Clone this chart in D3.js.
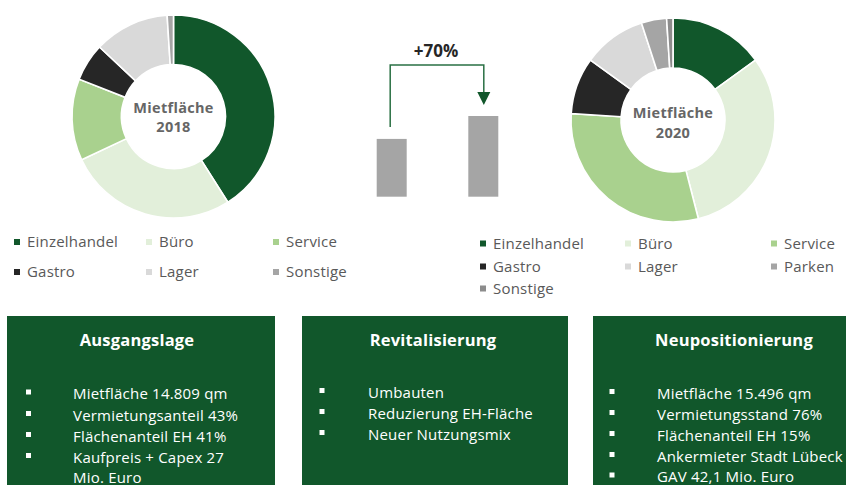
<!DOCTYPE html>
<html><head><meta charset="utf-8">
<script src="https://cdn.jsdelivr.net/npm/d3@7"></script>
<style>
html,body{margin:0;padding:0;background:#fff;}
svg{display:block;font-family:"Open Sans","Noto Sans",sans-serif;}
</style></head>
<body><svg id="c" width="846" height="485"></svg>
<script>
// ---------- data ----------
const cats2018 = ["Einzelhandel","Büro","Service","Gastro","Lager","Sonstige"];
const vals2018 = [41, 27, 13, 6, 12, 1];
const cats2020 = ["Einzelhandel","Büro","Service","Gastro","Lager","Parken","Sonstige"];
const vals2020 = [15, 31, 30, 9, 10, 4, 1];
const barLabels = ["2018","2020"];
const barValues = [58, 81];
const changeLabel = "+70%";
const centerLabels = [["Mietfläche","2018"],["Mietfläche","2020"]];
const boxTitles = ["Ausgangslage","Revitalisierung","Neupositionierung"];
const box1Items = ["Mietfläche 14.809 qm","Vermietungsanteil 43%","Flächenanteil EH 41%","Kaufpreis + Capex 27","Mio. Euro"];
const box1Bullets = [true,true,true,true,false];
const box2Items = ["Umbauten","Reduzierung EH-Fläche","Neuer Nutzungsmix"];
const box3Items = ["Mietfläche 15.496 qm","Vermietungsstand 76%","Flächenanteil EH 15%","Ankermieter Stadt Lübeck","GAV 42,1 Mio. Euro"];

// ---------- styles ----------
const GREEN = "#11572b";
const color = d3.scaleOrdinal()
  .domain(["Einzelhandel","Büro","Service","Gastro","Lager","Parken","Sonstige"])
  .range([GREEN,"#e2efda","#a9d18e","#262626","#d9d9d9","#a5a5a5","#8c8c8c"]);
const color2018 = c => c === "Sonstige" ? "#a5a5a5" : color(c);

const svg = d3.select("#c");

// ---------- donuts ----------
function donut(cx, cy, rOuter, rInner, cats, vals, colFn, labels, ly) {
  const g = svg.append("g").attr("transform", `translate(${cx},${cy})`);
  const pie = d3.pie().sort(null).value(d => d.v);
  const arc = d3.arc().innerRadius(rInner).outerRadius(rOuter);
  const data = cats.map((c, i) => ({c, v: vals[i]}));
  g.selectAll("path").data(pie(data)).join("path")
    .attr("d", arc).attr("fill", d => colFn(d.data.c))
    .attr("stroke", "#fff").attr("stroke-width", 1.6);
  g.selectAll("text").data(labels).join("text")
    .attr("x", 0).attr("y", (d, i) => ly[i]).attr("dy", "0.35em")
    .attr("text-anchor", "middle").attr("font-weight", 700)
    .attr("font-size", 14.5).attr("letter-spacing", 0.3).attr("fill", "#666").text(d => d);
}
donut(173.5, 116.5, 101.5, 52, cats2018, vals2018, color2018, centerLabels[0], [-8.5, 10.5]);
donut(673, 120, 102, 52, cats2020, vals2020, color, centerLabels[1], [-7, 13]);

// ---------- legends ----------
function legend(cats, colFn, colX, rowY) {
  const g = svg.append("g");
  const items = g.selectAll("g").data(cats).join("g")
    .attr("transform", (d, i) => `translate(${colX[i % 3]},${rowY[Math.floor(i / 3)]})`);
  items.append("rect").attr("x", -3).attr("y", -3).attr("width", 6).attr("height", 6)
    .attr("fill", d => colFn(d));
  items.append("text").attr("x", 10).attr("dy", "0.35em")
    .attr("font-size", 15).attr("letter-spacing", 0.2).attr("fill", "#595959").text(d => d);
}
legend(cats2018, color2018, [17, 149, 276], [242, 272]);
legend(cats2020, color, [483, 628, 774], [243.5, 266.5, 288.5]);

// ---------- bars ----------
const xBar = d3.scalePoint().domain(barLabels).range([391.7, 483.3]);
const yBar = d3.scaleLinear().domain([0, d3.max(barValues)]).range([196.7, 116]);
const barW = 30;
svg.append("g").selectAll("rect").data(barLabels).join("rect")
  .attr("x", d => xBar(d) - barW / 2).attr("width", barW)
  .attr("y", (d, i) => yBar(barValues[i]))
  .attr("height", (d, i) => yBar(0) - yBar(barValues[i]))
  .attr("fill", "#a5a5a5");

const x1 = xBar(barLabels[0]) - 1.5, x2 = xBar(barLabels[1]) + 0.5;
const topY = 65;
const startY = yBar(barValues[0]) - 12;
const tipY = yBar(barValues[1]) - 11;
svg.append("path")
  .attr("d", `M${x1},${startY}V${topY}H${x2}V${tipY - 12}`)
  .attr("fill", "none").attr("stroke", "#2a7044").attr("stroke-width", 1.5);
svg.append("path")
  .attr("d", `M${x2 - 6.5},${tipY - 13}L${x2 + 6.5},${tipY - 13}L${x2},${tipY}Z`)
  .attr("fill", GREEN);
svg.append("text").attr("x", (x1 + x2) / 2 - 1).attr("y", 51.5).attr("dy", "0.35em")
  .attr("text-anchor", "middle").attr("font-weight", 700).attr("font-size", 17)
  .attr("fill", "#262626").text(changeLabel);

// ---------- boxes ----------
const boxes = [
  {x: 7, w: 268, tx: 137, bx: 28.5, lx: 73, items: box1Items, bullets: box1Bullets, rows: [394, 415.5, 436.5, 457.5, 478]},
  {x: 302, w: 266, tx: 433, bx: 322, lx: 368, items: box2Items, bullets: [true,true,true], rows: [392.5, 413.5, 434.5]},
  {x: 593, w: 290, tx: 734, bx: 612, lx: 657, items: box3Items, bullets: [true,true,true,true,true], rows: [393.5, 414.5, 435.5, 456.5, 477]}
];
boxes.forEach((b, k) => {
  const g = svg.append("g");
  g.append("rect").attr("x", b.x).attr("y", 316).attr("width", b.w).attr("height", 200).attr("fill", GREEN);
  g.append("text").attr("x", b.tx).attr("y", 340).attr("dy", "0.35em")
    .attr("text-anchor", "middle").attr("font-weight", 700).attr("font-size", 16.5)
    .attr("letter-spacing", 0.2).attr("fill", "#fff").text(boxTitles[k]);
  g.selectAll("rect.bul").data(b.items.map((t, i) => i).filter(i => b.bullets[i])).join("rect")
    .attr("class", "bul").attr("x", b.bx - 2.5).attr("y", i => b.rows[i] - 4.5)
    .attr("width", 5).attr("height", 5).attr("fill", "#fff");
  g.selectAll("text.it").data(b.items).join("text").attr("class", "it")
    .attr("x", b.lx).attr("y", (d, i) => b.rows[i]).attr("dy", "0.35em")
    .attr("font-size", 15).attr("letter-spacing", 0.2).attr("fill", "#fff").text(d => d);
});
</script></body></html>
